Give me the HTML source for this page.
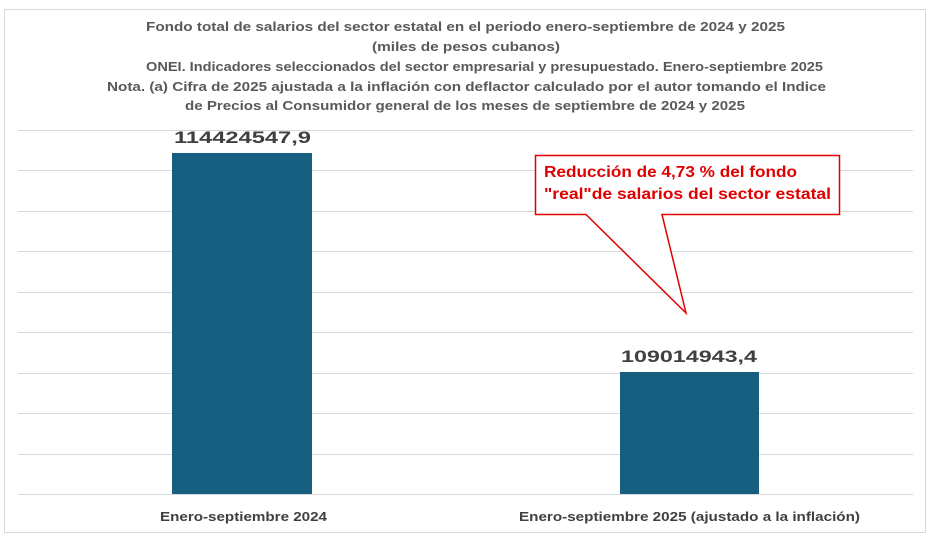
<!DOCTYPE html>
<html><head><meta charset="utf-8"><style>body{margin:0;background:#fff}svg{display:block}</style></head>
<body>
<svg width="933" height="552" viewBox="0 0 933 552" xmlns="http://www.w3.org/2000/svg" font-family="'Liberation Sans', sans-serif">
<rect x="0" y="0" width="933" height="552" fill="#fff"/>
<rect x="4.5" y="9.5" width="921" height="523" fill="#fff" stroke="#d9d9d9"/>
<g fill="#595959" font-weight="bold" font-size="13" text-anchor="start">
<text x="146" y="31" textLength="639" lengthAdjust="spacingAndGlyphs">Fondo total de salarios del sector estatal en el periodo enero-septiembre de 2024 y 2025</text>
<text x="372" y="51" textLength="188" lengthAdjust="spacingAndGlyphs">(miles de pesos cubanos)</text>
<text x="146" y="71" textLength="677" lengthAdjust="spacingAndGlyphs">ONEI. Indicadores seleccionados del sector empresarial y presupuestado. Enero-septiembre 2025</text>
<text x="107" y="91" textLength="719" lengthAdjust="spacingAndGlyphs">Nota. (a) Cifra de 2025 ajustada a la inflación con deflactor calculado por el autor tomando el Indice</text>
<text x="185" y="110" textLength="560" lengthAdjust="spacingAndGlyphs">de Precios al Consumidor general de los meses de septiembre de 2024 y 2025</text>
</g>
<g stroke="#d9d9d9" stroke-width="1">
<line x1="18" x2="913" y1="130.5" y2="130.5"/>
<line x1="18" x2="913" y1="170.5" y2="170.5"/>
<line x1="18" x2="913" y1="211.5" y2="211.5"/>
<line x1="18" x2="913" y1="251.5" y2="251.5"/>
<line x1="18" x2="913" y1="292.5" y2="292.5"/>
<line x1="18" x2="913" y1="332.5" y2="332.5"/>
<line x1="18" x2="913" y1="373.5" y2="373.5"/>
<line x1="18" x2="913" y1="413.5" y2="413.5"/>
<line x1="18" x2="913" y1="454.5" y2="454.5"/>
<line x1="18" x2="913" y1="494.5" y2="494.5"/>
</g>
<rect x="172" y="153" width="140" height="341" fill="#175f81"/>
<rect x="620" y="372" width="139" height="122" fill="#175f81"/>
<g fill="#404040" font-weight="bold" font-size="17">
<text x="174" y="143" textLength="137" lengthAdjust="spacingAndGlyphs">114424547,9</text>
<text x="621" y="362" textLength="136" lengthAdjust="spacingAndGlyphs">109014943,4</text>
</g>
<g fill="#404040" font-weight="bold" font-size="13">
<text x="160" y="521" textLength="167" lengthAdjust="spacingAndGlyphs">Enero-septiembre 2024</text>
<text x="519" y="521" textLength="341" lengthAdjust="spacingAndGlyphs">Enero-septiembre 2025 (ajustado a la inflación)</text>
</g>
<path d="M535.5 155.5 H839.5 V214.5 H662 L686 313 L586 214.5 H535.5 Z" fill="#fff" stroke="#e00000" stroke-width="1.5"/>
<g fill="#e00000" font-weight="bold" font-size="16">
<text x="544" y="177" textLength="253" lengthAdjust="spacingAndGlyphs">Reducción de 4,73 % del fondo</text>
<text x="544" y="199" textLength="287" lengthAdjust="spacingAndGlyphs">"real"de salarios del sector estatal</text>
</g>
</svg>
</body></html>
